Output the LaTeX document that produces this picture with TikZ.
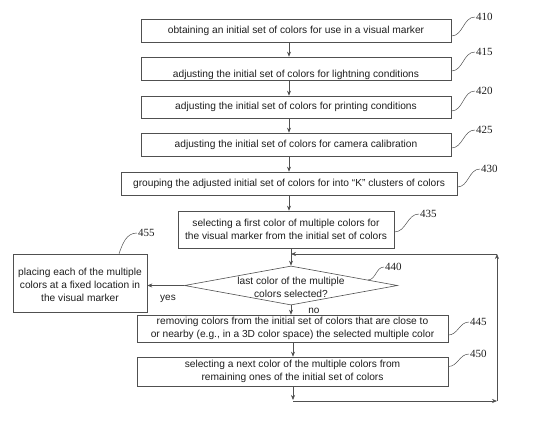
\documentclass[tikz,border=0pt]{standalone}
\usepackage{fontspec}
\setmainfont{Liberation Sans}
\newfontfamily\numfont{Liberation Serif}
\usetikzlibrary{shapes.geometric,arrows.meta,calc}
\definecolor{linegray}{RGB}{80,80,80}
\definecolor{txtgray}{RGB}{30,30,30}
\begin{document}
\begin{tikzpicture}[x=1pt,y=-1pt,
  box/.style={draw=linegray, line width=0.6pt, inner sep=0pt, align=center,
    font=\fontsize{10.2}{13.2}\selectfont, text=txtgray},
  decision/.style={draw=linegray, line width=0.6pt, diamond, inner sep=0pt,
    font=\fontsize{10.2}{13.2}\selectfont, text=txtgray},
  arr/.style={draw=linegray, line width=0.6pt, -{Stealth[length=5pt,width=4pt]}},
  leader/.style={draw=linegray, line width=0.5pt},
  reflabel/.style={font=\numfont\fontsize{11}{12}\selectfont, text=txtgray, inner sep=1pt, anchor=west},
  branch/.style={font=\fontsize{10}{12}\selectfont, text=txtgray, inner sep=0pt}
]
\useasboundingbox (0,0) rectangle (550,424);

% trunk x positions
\coordinate (ta) at (289,0);
\coordinate (tb) at (291,0);
\coordinate (tc) at (293,0);

% boxes
\node[box, minimum width=310pt, minimum height=23pt] (b410) at (296,30.5)
  {obtaining an initial set of colors for use in a visual marker};
\node[box, minimum width=310pt, minimum height=23pt] (b415) at (296,68.5)
  {\raisebox{-8.5pt}[0pt][0pt]{adjusting the initial set of colors for lightning conditions}};
\node[box, minimum width=310pt, minimum height=22pt] (b420) at (296,107)
  {adjusting the initial set of colors for printing conditions};
\node[box, minimum width=310pt, minimum height=23pt] (b425) at (296,144.5)
  {adjusting the initial set of colors for camera calibration};
\node[box, minimum width=336pt, minimum height=23pt] (b430) at (289,183.5)
  {grouping the adjusted initial set of colors for into ``K'' clusters of colors};
\node[box, minimum width=216pt, minimum height=37pt] (b435) at (286,229.5)
  {selecting a first color of multiple colors for\\the visual marker from the initial set of colors};
\node[decision, minimum width=213pt, minimum height=39pt] (d440) at (291,285.5)
  {\makebox[0pt]{\raisebox{-5.5pt}[0pt][0pt]{\begin{tabular}{@{}c@{}}last color of the multiple\\colors selected?\end{tabular}}}};
\node[box, minimum width=134pt, minimum height=58pt] (b455) at (80,283)
  {\raisebox{-5.5pt}[0pt][0pt]{\begin{tabular}{@{}c@{}}placing each of the multiple\\colors at a fixed location in\\the visual marker\end{tabular}}};
\node[box, minimum width=311pt, minimum height=27pt] (b445) at (292.5,328.5)
  {removing colors from the initial set of colors that are close to\\or nearby (e.g., in a 3D color space) the selected multiple color};
\node[box, minimum width=311pt, minimum height=29pt] (b450) at (292.5,371.5)
  {selecting a next color of the multiple colors from\\remaining ones of the initial set of colors};

% main flow
\draw[arr] (b410.south -| ta) -- (b415.north -| ta);
\draw[arr] (b415.south -| ta) -- (b420.north -| ta);
\draw[arr] (b420.south -| ta) -- (b425.north -| ta);
\draw[arr] (b425.south -| ta) -- (b430.north -| ta);
\draw[arr] (b430.south -| ta) -- (b435.north -| ta);
\draw[arr] (b435.south -| tb) -- (d440.north);
\draw[arr] (d440.south) -- (b445.north -| tb);
\draw[arr] (b445.south -| tc) -- (b450.north -| tc);
\draw[arr] (d440.west) -- (b455.east |- d440.west);
\node[branch] (yes) at (168,299) {yes};
\node[branch] (no) at (314,311) {no};

% feedback loop
\coordinate (f1) at (293,400);
\coordinate (f2) at (497,401);
\coordinate (f3) at (497,254);
\draw[arr] (b450.south -| tc) -- (f1);
\draw[arr] (f1 |- f2) -- (f2);
\draw[arr] (f2) -- (f3);
\draw[arr] (f3) -- (f3 -| d440.north);

% reference labels
\node[reflabel] (l410) at (475,17) {410};
\node[reflabel] (l415) at (475,52) {415};
\node[reflabel] (l420) at (475,91) {420};
\node[reflabel] (l425) at (475,130) {425};
\node[reflabel] (l430) at (480,169) {430};
\node[reflabel] (l435) at (419,214) {435};
\node[reflabel] (l440) at (384,267) {440};
\node[reflabel] (l445) at (469,322) {445};
\node[reflabel] (l450) at (469,354) {450};
\node[reflabel] (l455) at (137,233) {455};

\draw[leader] ([yshift=-5.5pt]b410.east) to[out=0,in=180] (l410.west);
\draw[leader] ([yshift=-2.5pt]b415.east) to[out=0,in=180] (l415.west);
\draw[leader] ([yshift=-4pt]b420.east) to[out=0,in=180] (l420.west);
\draw[leader] ([yshift=-3.5pt]b425.east) to[out=0,in=180] (l425.west);
\draw[leader] ([yshift=-3.5pt]b430.east) to[out=0,in=180] (l430.west);
\draw[leader] ([yshift=-2.5pt]b435.east) to[out=0,in=180] (l435.west);
\draw[leader] ($(d440.north)!0.72!(d440.east)$) to[out=0,in=180] (l440.west);
\draw[leader] ([yshift=-6.5pt]b445.east) to[out=0,in=180] (l445.west);
\draw[leader] ([yshift=5pt]b450.east) to[out=0,in=180] (l450.west);
\draw[leader] ([xshift=39pt]b455.north) to[out=70,in=180] (l455.west);
\end{tikzpicture}
\end{document}
